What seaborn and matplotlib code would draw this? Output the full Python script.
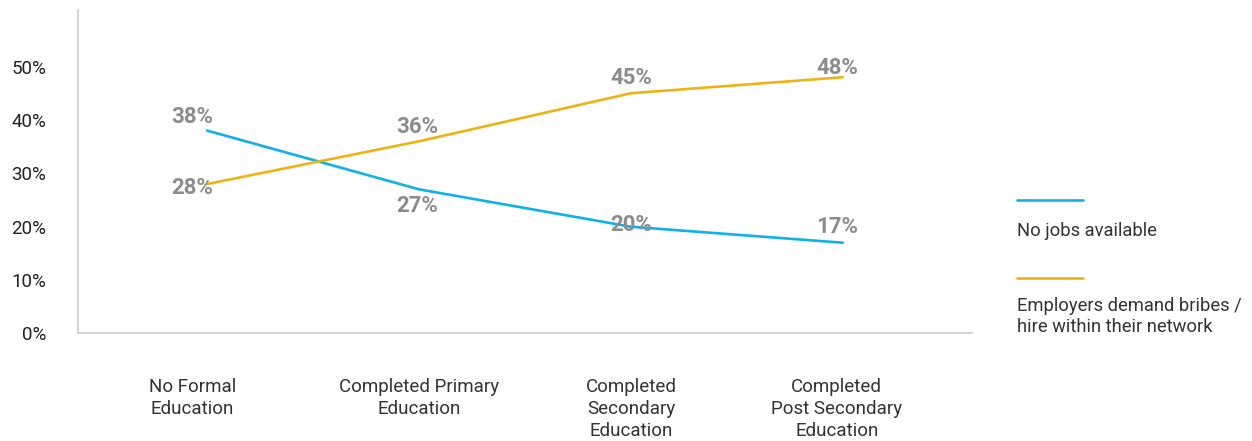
import matplotlib
matplotlib.use("Agg")
import matplotlib.pyplot as plt
import matplotlib.transforms as mtransforms
import seaborn as sns
import pandas as pd
from matplotlib.lines import Line2D

categories = ["No Formal\nEducation", "Completed Primary\nEducation",
              "Completed\nSecondary\nEducation", "Completed\nPost Secondary\nEducation"]
series_names = ["No jobs available", "Employers demand bribes /\nhire within their network"]
no_jobs = [38, 27, 20, 17]
bribes = [28, 36, 45, 48]
y_ticks = [0, 10, 20, 30, 40, 50]
y_tick_labels = ["0%", "10%", "20%", "30%", "40%", "50%"]

colors = ["#0db1ec", "#efb311"]
label_color = "#8c8c8c"

sns.set_theme(style="white")
plt.rcParams["font.family"] = ["Roboto", "DejaVu Sans"]

df = pd.DataFrame({
    "x": list(range(len(categories))) * 2,
    "value": no_jobs + bribes,
    "series": [series_names[0]] * len(no_jobs) + [series_names[1]] * len(bribes),
})

fig = plt.figure(figsize=(12.52, 4.41), dpi=100)
ax = fig.add_axes([0.0623, 0.2438, 0.714, 0.7336])

sns.lineplot(data=df, x="x", y="value", hue="series", palette=colors,
             linewidth=1.9, legend=False, ax=ax, estimator=None, sort=False)

ax.set_xlim(-0.61, 3.61)
ax.set_ylim(0, 60.6)
ax.set_yticks(y_ticks)
ax.set_yticklabels(y_tick_labels, fontsize=13.5, color="#222222")
ax.set_xticks(range(len(categories)))
ax.set_xticklabels(categories, fontsize=13.5, color="#333333", linespacing=1.3)
ax.tick_params(axis="y", length=0, pad=23)
ax.tick_params(axis="x", length=0, pad=32)
# label shifts seen in the reference (inches)
for lbl, dx in zip(ax.get_xticklabels(), [-0.15, 0.0, 0.0, -0.06]):
    lbl.set_transform(lbl.get_transform() +
                      mtransforms.ScaledTranslation(dx, 0, fig.dpi_scale_trans))
ax.set_xlabel("")
ax.set_ylabel("")
for s in ["top", "right"]:
    ax.spines[s].set_visible(False)
for s in ["left", "bottom"]:
    ax.spines[s].set_color("#cccccc")
    ax.spines[s].set_linewidth(1.2)

# data label offsets (points)
off_blue = [(-11, 10), (-1, -12), (0, 1), (-4, 11)]
off_orange = [(-11, -3), (-1, 10), (0, 11), (-4, 7)]
for i, v in enumerate(no_jobs):
    ax.annotate(f"{v}%", (i, v), xytext=off_blue[i], textcoords="offset points",
                ha="center", va="center", fontsize=16, fontweight="bold", color=label_color)
for i, v in enumerate(bribes):
    ax.annotate(f"{v}%", (i, v), xytext=off_orange[i], textcoords="offset points",
                ha="center", va="center", fontsize=16, fontweight="bold", color=label_color)

# manual legend
W, H = 1252, 441
for (ly, ty, name, c) in [(200, 231, series_names[0], colors[0]),
                          (278, 297, series_names[1], colors[1])]:
    fig.add_artist(Line2D([1017 / W, 1083 / W], [1 - ly / H, 1 - ly / H],
                          color=c, linewidth=1.9, transform=fig.transFigure))
    va = "center" if "\n" not in name else "top"
    fig.text(1017 / W, 1 - ty / H, name, fontsize=13.2, color="#333333",
             ha="left", va=va, linespacing=1.25)

fig.savefig("out.png", dpi=100)
